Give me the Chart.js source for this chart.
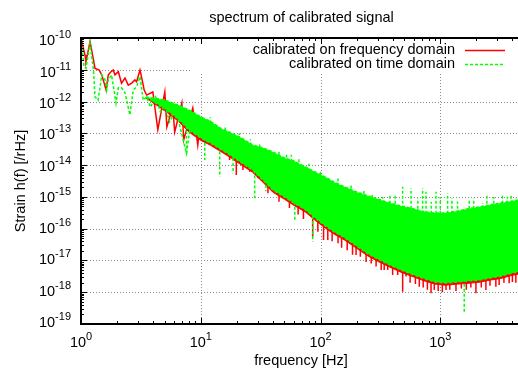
<!DOCTYPE html>
<html>
<head>
<meta charset="utf-8">
<title>spectrum of calibrated signal</title>
<script src="https://cdn.jsdelivr.net/npm/chart.js@4.4.0/dist/chart.umd.min.js"></script>
<style>
  html, body { margin: 0; padding: 0; background: #fff; overflow: hidden; }
  #wrap { width: 518px; height: 372px; overflow: hidden; }
  canvas { display: block; }
</style>
</head>
<body>
<div id="wrap"><canvas id="spectrumChart" width="530" height="372"></canvas></div>
<script>
// tick decades
const xTicks = [1, 10, 100, 1000];
const xTickExp = ['0', '1', '2', '3'];
const yTicks = [1e-10, 1e-11, 1e-12, 1e-13, 1e-14, 1e-15, 1e-16, 1e-17, 1e-18, 1e-19];
const yTickExp = ['-10', '-11', '-12', '-13', '-14', '-15', '-16', '-17', '-18', '-19'];

// low frequency part, where the two spectra are still separate lines
const redLineFreq = [1.0, 1.08, 1.10, 1.19, 1.31, 1.42, 1.49, 1.62, 1.69, 1.78, 1.86, 1.92, 2.05, 2.18, 2.33, 2.48, 2.65, 2.82, 2.91, 3.11, 3.24, 3.37, 3.53, 3.98, 4.38, 5.01, 5.21, 5.83, 6.06, 6.95, 7.2, 8.58, 9.44, 10.0];
const redLineVal = [9.8e-11, 2.9e-11, 1.8e-11, 7.7e-11, 1.1e-11, 9.8e-12, 6.9e-12, 2.3e-12, 6.9e-12, 8.7e-12, 9.8e-12, 6.9e-12, 8.7e-12, 3.8e-12, 5.5e-12, 3.3e-12, 3.8e-12, 4.8e-12, 4.2e-12, 9.8e-12, 4.8e-12, 2.3e-12, 1.6e-12, 2.0e-12, 1.3e-13, 2.0e-12, 1.6e-13, 6.7e-13, 1.1e-13, 9.0e-13, 6.2e-14, 6.3e-13, 4.3e-14, 3.0e-13];
const greenLineFreq = [1.0, 1.01, 1.06, 1.10, 1.19, 1.27, 1.31, 1.39, 1.49, 1.59, 1.64, 1.69, 1.80, 1.96, 2.05, 2.18, 2.33, 2.56, 2.73, 2.91, 3.11, 3.31, 3.53, 3.8, 4.2, 4.6, 5.0, 5.5, 6.2, 7.6, 8.5, 10.0];
const greenLineVal = [1.0e-10, 7.7e-11, 1.25e-11, 1.1e-11, 6.8e-11, 9.8e-12, 1.4e-12, 1.1e-12, 6.9e-12, 4.8e-12, 2.3e-12, 4.8e-12, 6.9e-12, 9.0e-13, 2.7e-12, 2.7e-12, 1.9e-12, 3.8e-13, 2.3e-12, 2.9e-12, 6.1e-12, 1.1e-12, 1.4e-12, 6.7e-13, 1.4e-12, 4.7e-13, 7.8e-13, 2.3e-13, 5.4e-13, 2.35e-14, 4.4e-13, 2.5e-13];

// dense part: upper / lower edge of each noise band
const bandFreq = [3.5, 5, 6.5, 8, 10, 12, 15, 18, 22, 27, 33, 40, 50, 60, 75, 90, 110, 130, 160, 200, 250, 300, 380, 470, 600, 750, 900, 1100, 1400, 1700, 2100, 2600, 3200, 4000, 5000];
const greenUpper = [1.4e-12, 1.12e-12, 7.8e-13, 5.4e-13, 3.3e-13, 2.4e-13, 1.37e-13, 1.03e-13, 7.1e-14, 4.3e-14, 3.5e-14, 2.6e-14, 1.68e-14, 1.35e-14, 8.7e-15, 6.1e-15, 4.2e-15, 2.9e-15, 2.05e-15, 1.43e-15, 1.07e-15, 8.6e-16, 6.4e-16, 5.2e-16, 4.2e-16, 3.35e-16, 3.1e-16, 3.1e-16, 3.6e-16, 4.2e-16, 4.8e-16, 5.6e-16, 6.4e-16, 7.4e-16, 8.6e-16];
const greenLower = [1.4e-12, 6e-13, 2.8e-13, 1.27e-13, 7.1e-14, 5.0e-14, 3.0e-14, 1.94e-14, 1.17e-14, 7.0e-15, 3.4e-15, 1.65e-15, 9.9e-16, 6.4e-16, 3.9e-16, 2.17e-16, 1.21e-16, 7.9e-17, 5.1e-17, 2.85e-17, 1.6e-17, 1.11e-17, 7.2e-18, 5.0e-18, 3.5e-18, 2.6e-18, 2.1e-18, 1.95e-18, 2.1e-18, 2.26e-18, 2.4e-18, 2.8e-18, 3.2e-18, 4.0e-18, 4.7e-18];
const redUpper = [1.26e-12, 1.0e-12, 7.0e-13, 4.9e-13, 3.0e-13, 2.2e-13, 1.23e-13, 9.3e-14, 6.4e-14, 3.9e-14, 3.15e-14, 2.35e-14, 1.5e-14, 1.2e-14, 7.8e-15, 5.5e-15, 3.8e-15, 2.6e-15, 1.85e-15, 1.29e-15, 9.6e-16, 7.7e-16, 5.8e-16, 4.7e-16, 3.8e-16, 3.0e-16, 2.8e-16, 2.8e-16, 3.2e-16, 3.8e-16, 4.3e-16, 5.0e-16, 5.8e-16, 6.7e-16, 7.7e-16];
const redLower = [1.3e-12, 5.1e-13, 2.4e-13, 1.08e-13, 6.0e-14, 4.25e-14, 2.55e-14, 1.65e-14, 9.9e-15, 6.0e-15, 2.9e-15, 1.4e-15, 8.4e-16, 5.4e-16, 3.3e-16, 1.84e-16, 1.03e-16, 6.7e-17, 4.3e-17, 2.4e-17, 1.36e-17, 9.4e-18, 6.1e-18, 4.25e-18, 3.0e-18, 2.2e-18, 1.8e-18, 1.66e-18, 1.8e-18, 1.9e-18, 2.05e-18, 2.4e-18, 2.7e-18, 3.4e-18, 4.0e-18];

// single lines sticking out of the bands
const redSpikeFreq = [11.2, 14.4, 17.4, 19.8, 22.5, 25.6, 28.2, 30.0, 36.4, 45, 55, 65, 72, 86, 95, 106, 115, 125, 140, 150, 167, 185, 198, 215, 240, 265, 291, 321, 340, 364, 400, 441, 485, 518, 560, 620, 668, 720, 780, 837, 891, 960, 1040, 1116, 1200, 1352, 1500, 1650, 1800, 1984, 2200, 2404, 2600, 2911, 3100, 3400, 3758, 4000, 4273, 4700];
const redSpikeLow = [6.2e-14, 3.0e-14, 1.45e-14, 4.9e-15, 7.0e-15, 6.2e-15, 8.1e-15, 3.85e-15, 1.3e-15, 7e-16, 4.5e-16, 2.8e-16, 2e-16, 5.6e-17, 8e-17, 4.4e-17, 4.4e-17, 4e-17, 3.5e-17, 2.5e-17, 2.1e-17, 1.5e-17, 1.49e-17, 1.3e-17, 9e-18, 8e-18, 6.4e-18, 5e-18, 5e-18, 5e-18, 3.5e-18, 3.5e-18, 1.04e-18, 3.1e-18, 2e-18, 1.8e-18, 1.5e-18, 1.4e-18, 1.2e-18, 9.3e-19, 1.18e-18, 1.1e-18, 1.0e-18, 1.18e-18, 1.2e-18, 1.1e-18, 1.3e-18, 1.2e-18, 1.4e-18, 9.3e-19, 1.4e-18, 1.18e-18, 1.6e-18, 1.5e-18, 1.7e-18, 2e-18, 1.9e-18, 2.1e-18, 2.0e-18, 2.6e-18];
const redSpikeHigh = [1.5e-13, 8e-14, 6e-14, 4e-14, 3e-14, 2.5e-14, 2e-14, 1.8e-14, 1e-14, 5e-15, 4e-15, 2e-15, 1.5e-15, 1e-15, 8e-16, 7e-16, 6e-16, 5e-16, 5e-16, 4e-16, 3e-16, 3e-16, 2.5e-16, 2e-16, 1.8e-16, 1.5e-16, 1e-16, 1e-16, 1e-16, 1e-16, 1e-16, 1e-16, 1e-16, 1e-16, 1e-16, 1e-16, 1e-16, 1e-16, 1e-16, 1e-16, 1e-16, 1e-16, 1e-16, 1e-16, 1e-16, 1e-16, 1e-16, 1e-16, 1e-16, 1e-16, 1e-16, 1e-16, 1e-16, 1e-16, 1e-16, 1e-16, 1e-16, 1e-16, 1e-16, 1e-16];
const greenSpikeFreq = [7.6, 10.8, 12, 14.4, 16, 18.6, 21, 26, 28.2, 31, 35, 45, 52, 57, 61, 66, 80, 86, 100, 140, 180, 230, 270, 330, 380, 420, 485, 570, 650, 712, 760, 840, 921, 1000, 1151, 1250, 1393, 1585, 1745, 1900, 2252, 2450, 2800, 3300, 3637, 3900, 4273, 4700];
const greenSpikeFrom = [2.5e-13, 1.5e-13, 1e-13, 8e-14, 6e-14, 5e-14, 3e-14, 2e-14, 2e-14, 1.2e-14, 1e-14, 5e-15, 4e-15, 3e-15, 3e-15, 2e-15, 1.5e-15, 1.5e-15, 8e-16, 5e-16, 3e-16, 2e-16, 1.5e-16, 1e-16, 1e-16, 1e-16, 1e-16, 1e-16, 1e-16, 1e-16, 1e-16, 1e-16, 1e-16, 1e-16, 1e-16, 1e-16, 1e-16, 1e-16, 1e-16, 1e-16, 1e-16, 1e-16, 1e-16, 1e-16, 1e-16, 1e-16, 1e-16, 1e-16];
const greenSpikeTo = [2.35e-14, 1.45e-14, 3.2e-13, 4.3e-15, 1.8e-13, 5.5e-15, 1.0e-13, 6.5e-14, 9e-16, 5e-14, 1.5e-15, 3e-14, 2.2e-14, 2.1e-14, 1.9e-16, 1.6e-14, 1.1e-14, 3.9e-17, 7e-15, 3.8e-15, 2.6e-15, 1.6e-15, 1.3e-15, 1.0e-15, 1.15e-15, 1.1e-15, 2.1e-15, 1.87e-15, 9e-16, 1.87e-15, 1.46e-15, 7e-16, 1.46e-15, 1.0e-15, 1.3e-15, 9e-16, 7.1e-16, 2.4e-19, 8.0e-16, 9e-16, 6.3e-16, 1.1e-15, 1.0e-15, 1.2e-15, 1.01e-15, 1.1e-15, 9.0e-16, 1.2e-15];

const RED = '#ff0000';
const GREEN = '#00ff00';
const FONT = '"Liberation Sans", Arial, Helvetica, sans-serif';
const DASH = [3, 2];

const toPoints = (xs, ys) => xs.map((f, i) => ({x: f, y: ys[i]}));
// each spike is its own short vertical segment, nulls break the line
const toSpikes = (xs, a, b) => xs.flatMap((f, i) => [{x: f, y: a[i]}, {x: f, y: b[i]}, {x: f, y: null}]);

function drawPow(ctx, exp, x, y, align) {
    ctx.font = '14.5px ' + FONT;
    const w1 = ctx.measureText('10').width;
    ctx.font = '11px ' + FONT;
    const w2 = ctx.measureText(exp).width;
    const start = align === 'right' ? x - w1 - w2 : x - (w1 + w2) / 2;
    ctx.textAlign = 'left';
    ctx.textBaseline = 'alphabetic';
    ctx.fillText(exp, start + w1, y - 7);
    ctx.font = '14.5px ' + FONT;
    ctx.fillText('10', start, y);
}

const gnuFrame = {
    id: 'gnuFrame',
    beforeDatasetsDraw(chart) {
        const {ctx, chartArea: a, scales: {x, y}} = chart;
        ctx.save();
        ctx.strokeStyle = '#8a8a8a';
        ctx.lineWidth = 1;
        ctx.setLineDash([1, 2]);
        ctx.beginPath();
        xTicks.slice(1).forEach(v => {
            const px = Math.round(x.getPixelForValue(v)) + 0.5;
            ctx.moveTo(px, a.top);
            ctx.lineTo(px, a.bottom);
        });
        yTicks.slice(1, -1).forEach(v => {
            const py = Math.round(y.getPixelForValue(v)) + 0.5;
            ctx.moveTo(a.left, py);
            ctx.lineTo(a.right, py);
        });
        ctx.stroke();
        // key area is left blank like gnuplot does
        ctx.fillStyle = '#fff';
        ctx.fillRect(192, a.top, a.right - 192, 73 - a.top);
        ctx.restore();
    },
    afterDatasetsDraw(chart) {
        const {ctx, chartArea: a, scales: {x, y}} = chart;
        ctx.save();

        // tick marks on all sides
        ctx.strokeStyle = '#000';
        ctx.lineWidth = 1;
        ctx.beginPath();
        for (let d = 0; d <= 3; d++) {
            for (let m = 1; m <= 9; m++) {
                const v = m * Math.pow(10, d);
                if (v > 5000) break;
                const px = Math.round(x.getPixelForValue(v)) + 0.5;
                const len = m === 1 ? 6 : 3;
                ctx.moveTo(px, a.bottom);
                ctx.lineTo(px, a.bottom - len);
                ctx.moveTo(px, a.top);
                ctx.lineTo(px, a.top + len);
            }
        }
        for (let d = -19; d <= -10; d++) {
            for (let m = 1; m <= 9; m++) {
                const v = m * Math.pow(10, d);
                if (d === -10 && m > 1) break;
                const py = Math.round(y.getPixelForValue(v)) + 0.5;
                const len = m === 1 ? 6 : 3;
                ctx.moveTo(a.left, py);
                ctx.lineTo(a.left + len, py);
                ctx.moveTo(a.right, py);
                ctx.lineTo(a.right - len, py);
            }
        }
        ctx.stroke();

        ctx.lineWidth = 2;
        ctx.strokeRect(a.left, a.top, a.right - a.left, a.bottom - a.top);

        // tick labels (gnuplot nudges the y labels a little, more at the top)
        ctx.fillStyle = '#000';
        xTicks.forEach((v, i) => drawPow(ctx, xTickExp[i], x.getPixelForValue(v), a.bottom + 23, 'center'));
        yTicks.forEach((v, i) => drawPow(ctx, yTickExp[i], a.left - 10, y.getPixelForValue(v) + 7.3 - 4.3 * i / 9, 'right'));

        // title and axis titles
        ctx.font = '14.5px ' + FONT;
        ctx.textAlign = 'center';
        ctx.textBaseline = 'alphabetic';
        ctx.fillText('spectrum of calibrated signal', 301.5, 22);
        ctx.fillText('frequency [Hz]', 301, 365);
        ctx.save();
        ctx.translate(21, 181);
        ctx.rotate(-Math.PI / 2);
        ctx.textBaseline = 'middle';
        ctx.fillText('Strain h(f) [/rHz]', 0, 0);
        ctx.restore();

        // key
        const keys = [
            {label: chart.data.datasets[4].label, color: RED, dash: [], y: 50},
            {label: chart.data.datasets[0].label, color: GREEN, dash: DASH, y: 64}
        ];
        keys.forEach(k => {
            ctx.textAlign = 'right';
            ctx.textBaseline = 'middle';
            ctx.fillStyle = '#000';
            ctx.fillText(k.label, 455, k.y);
            ctx.strokeStyle = k.color;
            ctx.lineWidth = 1.5;
            ctx.setLineDash(k.dash);
            ctx.beginPath();
            ctx.moveTo(465, k.y + 0.5);
            ctx.lineTo(505, k.y + 0.5);
            ctx.stroke();
        });
        ctx.restore();
    }
};

document.addEventListener('DOMContentLoaded', function() {
    const ctx = document.getElementById('spectrumChart').getContext('2d');
    new Chart(ctx, {
        type: 'line',
        data: {
            datasets: [
                {
                    label: 'calibrated on time domain',
                    data: toPoints(greenLineFreq, greenLineVal),
                    borderColor: GREEN,
                    borderWidth: 1.5,
                    borderDash: DASH,
                    order: 1
                },
                {
                    label: 'time band top',
                    data: toPoints(bandFreq, greenUpper),
                    borderColor: GREEN,
                    backgroundColor: GREEN,
                    borderWidth: 1.5,
                    borderDash: DASH,
                    fill: '+1',
                    order: 1
                },
                {
                    label: 'time band bottom',
                    data: toPoints(bandFreq, greenLower),
                    borderColor: GREEN,
                    borderWidth: 1.5,
                    borderDash: DASH,
                    order: 1
                },
                {
                    label: 'time spikes',
                    data: toSpikes(greenSpikeFreq, greenSpikeFrom, greenSpikeTo),
                    borderColor: GREEN,
                    borderWidth: 1.5,
                    borderDash: DASH,
                    spanGaps: false,
                    order: 1
                },
                {
                    label: 'calibrated on frequency domain',
                    data: toPoints(redLineFreq, redLineVal),
                    borderColor: RED,
                    borderWidth: 1.5,
                    order: 2
                },
                {
                    label: 'freq band top',
                    data: toPoints(bandFreq, redUpper),
                    borderColor: RED,
                    backgroundColor: RED,
                    borderWidth: 1,
                    fill: '+1',
                    order: 2
                },
                {
                    label: 'freq band bottom',
                    data: toPoints(bandFreq, redLower),
                    borderColor: RED,
                    borderWidth: 1,
                    order: 2
                },
                {
                    label: 'freq spikes',
                    data: toSpikes(redSpikeFreq, redSpikeLow, redSpikeHigh),
                    borderColor: RED,
                    borderWidth: 1.5,
                    spanGaps: false,
                    order: 2
                }
            ]
        },
        options: {
            responsive: false,
            devicePixelRatio: 1,
            animation: false,
            events: [],
            layout: {
                padding: {left: 81, right: 6, top: 38, bottom: 48}
            },
            elements: {
                point: {radius: 0},
                line: {tension: 0}
            },
            plugins: {
                legend: {display: false},
                title: {display: false},
                tooltip: {enabled: false}
            },
            scales: {
                x: {type: 'logarithmic', min: 1, max: 5000, display: false},
                y: {type: 'logarithmic', min: 1e-19, max: 1e-10, display: false}
            }
        },
        plugins: [gnuFrame]
    });
});
</script>
</body>
</html>
